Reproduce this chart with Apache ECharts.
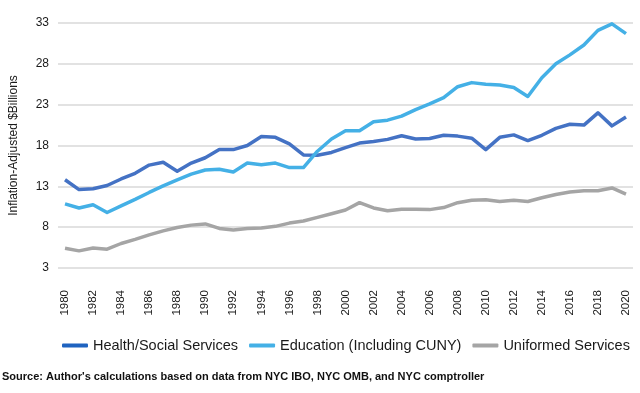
<!DOCTYPE html>
<html>
<head>
<meta charset="utf-8">
<script src="https://cdn.jsdelivr.net/npm/echarts@6/dist/echarts.min.js"></script>
<style>
html,body{margin:0;padding:0;background:#fff;}
#c{width:640px;height:393px;}
</style>
</head>
<body>
<div id="c"></div>
<script>
const years = [];
for (let y = 1980; y <= 2020; y++) years.push(String(y));

const healthSocial = [13.8, 12.6, 12.7, 13.1, 13.9, 14.6, 15.6, 15.95, 14.85, 15.85,
  16.5, 17.5, 17.5, 18.0, 19.1, 19.0, 18.2, 16.85, 16.8, 17.15,
  17.75, 18.3, 18.5, 18.75, 19.2, 18.8, 18.85, 19.25, 19.15, 18.9,
  17.5, 19.0, 19.3, 18.6, 19.25, 20.1, 20.6, 20.5, 22.0, 20.4, 21.5];

const education = [10.85, 10.35, 10.75, 9.8, 10.6, 11.4, 12.25, 13.05, 13.8, 14.5,
  15.0, 15.1, 14.75, 15.85, 15.65, 15.85, 15.3, 15.3, 17.3, 18.8,
  19.8, 19.8, 20.9, 21.1, 21.6, 22.4, 23.1, 23.85, 25.2, 25.7,
  25.5, 25.4, 25.1, 24.0, 26.3, 28.0, 29.1, 30.3, 32.1, 32.9, 31.7];

const uniformed = [5.42, 5.1, 5.45, 5.3, 6.0, 6.5, 7.05, 7.55, 7.95, 8.25,
  8.4, 7.85, 7.65, 7.85, 7.9, 8.1, 8.5, 8.75, 9.2, 9.65,
  10.1, 11.0, 10.35, 10.0, 10.2, 10.2, 10.15, 10.4, 11.0, 11.3,
  11.35, 11.15, 11.3, 11.15, 11.6, 12.0, 12.3, 12.45, 12.45, 12.8, 12.05];

const seriesNames = ['Health/Social Services', 'Education (Including CUNY)', 'Uniformed Services'];
const yTicks = { min: 3, max: 33, interval: 5 };
const axisTitle = 'Inflation-Adjusted $Billions';
const sourceNote = "Source: Author's calculations based on data from NYC IBO, NYC OMB, and NYC comptroller";

const colors = ['#4472C4', '#44B0E6', '#A5A5A5'];
const legendColors = ['#1F63C0', '#44B0E6', '#A5A5A5'];
const FONT = 'Liberation Sans, Arial, sans-serif';

const chart = echarts.init(document.getElementById('c'), null, { renderer: 'canvas' });
const dataSets = [healthSocial, education, uniformed];

chart.setOption({
  animation: false,
  backgroundColor: '#ffffff',
  textStyle: { fontFamily: FONT },
  grid: { left: 56, right: 7, top: 23, bottom: 125, containLabel: false },
  legend: {
    left: 57, top: 333,
    itemWidth: 26, itemHeight: 4, itemGap: 11,
    icon: 'roundRect',
    textStyle: { fontSize: 14.5, color: '#1a1a1a', fontFamily: FONT },
    data: seriesNames.map((n, i) => ({ name: n, itemStyle: { color: legendColors[i] } }))
  },
  graphic: [{
    type: 'text', left: 2, top: 371,
    style: { text: sourceNote, fontSize: 11, fontWeight: 'bold', fill: '#111', fontFamily: FONT }
  }],
  xAxis: {
    type: 'category',
    data: years,
    boundaryGap: true,
    axisLine: { show: false },
    axisTick: { show: false },
    axisLabel: { interval: 1, rotate: 90, margin: 22, fontSize: 11.5, color: '#1a1a1a', fontFamily: FONT }
  },
  yAxis: {
    type: 'value',
    min: yTicks.min, max: yTicks.max, interval: yTicks.interval,
    name: axisTitle,
    nameLocation: 'middle',
    nameGap: 38,
    nameTextStyle: { fontSize: 12, color: '#1a1a1a', fontFamily: FONT },
    axisLine: { show: false },
    axisTick: { show: false },
    axisLabel: { margin: 9, fontSize: 12, color: '#1a1a1a', fontFamily: FONT },
    splitLine: { lineStyle: { color: '#D9D9D9', width: 1.5 } }
  },
  series: seriesNames.map((n, i) => ({
    name: n,
    type: 'line',
    data: dataSets[i],
    showSymbol: false,
    symbol: 'none',
    lineStyle: { color: colors[i], width: 3.5, join: 'round' },
    itemStyle: { color: colors[i] }
  }))
});
</script>
</body>
</html>
